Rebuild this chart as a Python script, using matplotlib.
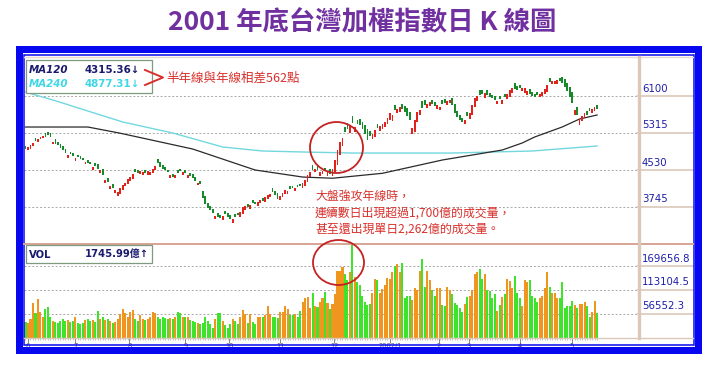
import numpy as np
import matplotlib
matplotlib.use('Agg')
import matplotlib.pyplot as plt
from matplotlib.patches import Rectangle, Ellipse
import matplotlib.transforms as mtransforms

# ---------------- data ----------------
closes = [4980, 5020, 5060, 5110, 5150, 5190, 5230, 5250, 5240, 5275,
          5230, 5125, 5080, 5050, 5000, 4960, 4900, 4850, 4870, 4820,
          4780, 4800, 4760, 4740, 4700, 4680, 4650, 4600, 4620, 4560,
          4530, 4420, 4320, 4280, 4200, 4150, 4100, 4065, 4150, 4215,
          4260, 4330, 4380, 4440, 4490, 4470, 4510, 4480, 4460, 4500,
          4490, 4560, 4620, 4680, 4600, 4560, 4520, 4480, 4420, 4383,
          4420, 4460, 4500, 4490, 4460, 4420, 4400, 4360, 4300, 4255,
          4230, 3935, 3800, 3725, 3680, 3620, 3560, 3530, 3510, 3560,
          3600, 3540, 3500, 3480, 3530, 3575, 3640, 3745, 3770, 3740,
          3780, 3830, 3810, 3860, 3900, 3880, 3960, 3990, 4030, 4065,
          4000, 3915, 3980, 4050, 4107, 4090, 4130, 4150, 4140, 4170,
          4180, 4250, 4320, 4420, 4480, 4530, 4560, 4540, 4490, 4510,
          4500, 4480, 4450, 4560, 4740, 4950, 5125, 5200, 5337, 5400,
          5480, 5527, 5450, 5500, 5485, 5400, 5300, 5170, 5250, 5300,
          5380, 5420, 5470, 5510, 5550, 5640, 5740, 5700, 5800, 5830,
          5867, 5820, 5750, 5680, 5590, 5420, 5600, 5760, 5800, 5850,
          5900, 5940, 5973, 5920, 5880, 5900, 5867, 5930, 5960, 5990,
          6015, 5900, 5740, 5650, 5600, 5550, 5600, 5680, 5740, 5900,
          6058, 6100, 6130, 6150, 6164, 6120, 6080, 6050, 6015, 6000,
          6030, 6015, 6080, 6150, 6220, 6270, 6250, 6230, 6260, 6280,
          6270, 6200, 6150, 6100, 6079, 6120, 6150, 6185, 6250, 6330,
          6397, 6420, 6410, 6430, 6418, 6380, 6290, 6200, 6079, 5950,
          5803, 5700, 5612, 5680, 5740, 5700, 5780, 5820, 5867, 5830]

# signed candle bodies (close - open); positive = up day
bodies = [-50, 70, 75, 70, -60, 75, 50, 45, -70, -60,
          -85, 50, -100, -70, -75, -70, -85, 60, -50, -75,
          50, -45, -60, -50, 50, -60, -50, 70, -50, -95,
          60, -135, 70, -85, 70, -75, 60, 85, 120, 100,
          75, 100, 85, 95, -70, -50, 70, 50, -60, 70,
          60, 100, 95, -85, -100, -70, -75, -60, 50, -70,
          70, -75, -60, 60, -70, 50, -60, -75, -85, 45,
          -75, -155, -170, -100, -85, -75, 70, -85, -70, 85,
          -50, -85, -70, 70, -60, -50, 100, 155, 85, -70,
          85, -60, -50, 85, 75, -60, 100, 85, 75, -75,
          -95, -120, 95, 100, 85, 70, -60, -50, 60, -50,
          -60, 100, 120, 155, 100, -100, 70, -75, 85, 70,
          -75, 70, -100, 155, 255, 305, 270, 155, -100, -135,
          170, -155, 120, -100, -135, -155, -185, -220, -100, 120,
          155, -85, 120, 100, 100, 135, 155, 120, -100, 85,
          100, -120, -135, -155, -170, 135, 255, 205, 100, -135,
          -120, 100, 85, -100, -85, 85, 70, -85, -70, 85,
          70, -155, -185, -135, -100, -85, 100, -70, 120, 205,
          185, 100, -100, -85, 100, -100, -85, -70, -75, 70,
          -70, 85, -70, 120, 135, 100, -120, -85, -70, 70,
          100, 85, -100, -85, -70, -75, 70, 75, 100, 135,
          -85, 70, 50, 70, -70, -120, -170, -185, -220, -240,
          100, -170, 120, 100, 100, -85, -70, 85, 85, -70]

# daily volume (百萬元)
volumes = [38000, 35000, 45000, 82000, 58000, 92000, 60000, 49000, 68000, 73000,
           48000, 40000, 36000, 35000, 40000, 45000, 40000, 42000, 38000, 40000,
           48000, 35000, 33000, 35000, 42000, 45000, 40000, 42000, 38000, 62000,
           45000, 48000, 42000, 45000, 40000, 35000, 38000, 45000, 55000, 67000,
           58000, 49000, 60000, 66000, 45000, 40000, 53000, 45000, 42000, 45000,
           50000, 60000, 58000, 48000, 45000, 48000, 46000, 45000, 47000, 44000,
           48000, 61000, 59000, 50000, 50000, 48000, 42000, 40000, 38000, 35000,
           33000, 35000, 49000, 40000, 31000, 23000, 45000, 58000, 58000, 40000,
           30000, 23000, 33000, 45000, 40000, 31000, 50000, 66000, 55000, 35000,
           56000, 36000, 33000, 50000, 50000, 48000, 53000, 75000, 56000, 48000,
           48000, 46000, 61000, 61000, 75000, 68000, 53000, 53000, 56000, 48000,
           63000, 85000, 94000, 96000, 71000, 106000, 75000, 72000, 85000, 94000,
           108000, 82000, 68000, 79000, 104000, 159000, 159000, 167000, 151000, 136000,
           155000, 222000, 143000, 131000, 124000, 100000, 85000, 78000, 80000, 106000,
           140000, 138000, 106000, 115000, 125000, 141000, 139000, 155000, 170000, 174000,
           155000, 178000, 94000, 100000, 100000, 89000, 118000, 113000, 159000, 188000,
           120000, 159000, 136000, 112000, 100000, 118000, 117000, 78000, 75000, 120000,
           113000, 104000, 82000, 78000, 71000, 61000, 80000, 96000, 100000, 113000,
           151000, 155000, 162000, 140000, 151000, 113000, 110000, 94000, 104000, 63000,
           78000, 96000, 104000, 140000, 134000, 118000, 146000, 106000, 94000, 75000,
           136000, 131000, 136000, 100000, 94000, 85000, 94000, 100000, 118000, 155000,
           120000, 106000, 106000, 94000, 94000, 131000, 71000, 75000, 75000, 87000,
           78000, 71000, 79000, 80000, 85000, 75000, 49000, 61000, 87000, 58000]

ma120_idx = [0, 25, 38, 67, 92, 111, 123, 143, 167, 191, 199, 204, 215, 222, 229]
ma120_val = [5442, 5442, 5310, 4975, 4530, 4381, 4355, 4460, 4742, 4954, 5103, 5230, 5442, 5612, 5697]
ma240_idx = [0, 4, 11, 39, 59, 79, 95, 111, 131, 171, 203, 229]
ma240_val = [6185, 6121, 6015, 5548, 5315, 5018, 4933, 4912, 4890, 4890, 4933, 5039]

price_ticks = [3745, 4530, 5315, 6100]
vol_ticks = [56552.3, 113104.5, 169656.8]
month_pos = [1, 20, 41.6, 64, 81.6, 102, 123.6, 146, 165.6, 177.6, 198, 218.8]
month_lbl = ['6', '7', '8', '9', '10', '11', '12', '2002/1', '2', '3', '4', '5']

title = '2001 年底台灣加權指數日 K 線圖'
ma120_txt = ('MA120', '4315.36↓')
ma240_txt = ('MA240', '4877.31↓')
vol_txt = ('VOL', '1745.99億↑')
note_top = '半年線與年線相差562點'
note_main = ['大盤強攻年線時，', '連續數日出現超過1,700億的成交量，', '甚至還出現單日2,262億的成交量。']

# ---------------- figure ----------------
W, H = 724, 367
fig = plt.figure(figsize=(W / 100, H / 100), dpi=100)
fig.patch.set_facecolor('white')
CJK = ['Noto Sans CJK TC', 'DejaVu Sans']
LAT = ['DejaVu Sans', 'Noto Sans CJK TC']


def rect(x0, y0, x1, y1):
    return [x0 / W, 1 - y1 / H, (x1 - x0) / W, (y1 - y0) / H]


X0, X1 = -0.6, 245.0
ax = fig.add_axes(rect(24, 57, 637, 243))
axv = fig.add_axes(rect(24, 243, 637, 337.5))
for a in (ax, axv):
    a.set_xlim(X0, X1)
    for s in a.spines.values():
        s.set_visible(False)
    a.set_yticks([])
ax.set_xticks([])

px_per_pt = 785 / 37.0
ax.set_ylim(6100 - 147 * px_per_pt, 6100 + 39 * px_per_pt)
axv.set_ylim(0, 225000)

c = np.array(closes, float)
b = np.array(bodies, float)
o = c - b
idx = np.arange(len(c))
lo = np.minimum(o, c)
hgt = np.maximum(np.abs(b), 25)
up = b > 0
ccol = np.where(up, '#e2231c', '#178a2c')
vcol = np.where(up, '#f0951e', '#3fe32b')

grid_kw = dict(color='#a8a8a8', lw=0.7, ls=(0, (2, 2)), zorder=0)
for y in price_ticks:
    ax.axhline(y, **grid_kw)
for y in vol_ticks:
    axv.axhline(y, **grid_kw)

ax.plot(ma240_idx, ma240_val, color='#72d8de', lw=1.0, zorder=2)
ax.plot(ma120_idx, ma120_val, color='#2a2a2a', lw=0.9, zorder=2)
ax.bar(idx, hgt, bottom=lo, width=0.72, color=ccol, linewidth=0, zorder=3)
axv.bar(idx, volumes, width=0.82, color=vcol, linewidth=0, zorder=3)

# x ticks
axv.set_xticks(month_pos)
axv.set_xticklabels(month_lbl, fontsize=4.8, color='#4a4a7a')
axv.set_xticks(idx, minor=True)
axv.tick_params(axis='x', which='major', length=3.5, width=0.6, color='#707070', pad=0.5)
axv.tick_params(axis='x', which='minor', length=1.6, width=0.4, color='#909090')

# right-hand labels and tan tick lines
tan = '#dcc8ba'
lab_col = '#1e1ea8'
for a, ticks, fmt in ((ax, price_ticks, '{:.0f}'), (axv, vol_ticks, '{:.1f}')):
    tr = mtransforms.blended_transform_factory(a.transAxes, a.transData)
    for y in ticks:
        a.plot([1.0, 1.0914], [y, y], transform=tr, clip_on=False, color=tan, lw=1.2)
        a.annotate(fmt.format(y), xy=(1.0, y), xycoords=tr, xytext=(5, 2.5),
                   textcoords='offset pixels', ha='left', va='bottom',
                   fontsize=7.3, color=lab_col, family=LAT, annotation_clip=False)

# ---------------- overlay ----------------
ov = fig.add_axes([0, 0, 1, 1])
ov.set_xlim(0, W)
ov.set_ylim(H, 0)
ov.axis('off')

blue = '#0808f0'
ov.plot([24, 693], [57, 57], color='#ead8cc', lw=1.0)
ov.plot([24, 693], [243.5, 243.5], color='#d6a494', lw=1.4)
ov.plot([24, 693], [338, 338], color=tan, lw=1.0)
ov.plot([638.5, 638.5], [57, 338], color=tan, lw=2.4)

for (x0, y0, x1, y1) in [(16, 46, 702, 53), (16, 347, 702, 354), (16, 46, 23, 354), (695, 46, 702, 354)]:
    ov.add_patch(Rectangle((x0, y0), x1 - x0, y1 - y0, facecolor=blue, edgecolor='none'))
ov.add_patch(Rectangle((24.3, 55), 669.2, 289.5, facecolor='none', edgecolor=blue, lw=1.1))

ov.text(362, 23, title, ha='center', va='center', fontsize=19, fontweight='bold',
        color='#7030a0', family=CJK)

ov.add_patch(Rectangle((26, 60), 126, 33, facecolor='white', edgecolor='#7f9a7f', lw=0.9, zorder=5))
ov.text(29, 70, ma120_txt[0], fontsize=7.4, fontweight='bold', style='italic', color='#1a1a6e',
        va='center', family=LAT, zorder=6)
ov.text(85, 70, ma120_txt[1], fontsize=7.4, fontweight='bold', color='#1a1a6e', va='center',
        family=LAT, zorder=6)
ov.text(29, 84, ma240_txt[0], fontsize=7.4, fontweight='bold', style='italic', color='#3fd6e6',
        va='center', family=LAT, zorder=6)
ov.text(85, 84, ma240_txt[1], fontsize=7.4, fontweight='bold', color='#3fd6e6', va='center',
        family=LAT, zorder=6)

red = '#d8302c'
ov.plot([145, 163, 145], [70, 77.5, 85], color=red, lw=1.4, zorder=6)
ov.text(166, 78, note_top, fontsize=9, color=red, va='center', ha='left', family=CJK, zorder=6)

ov.add_patch(Rectangle((26, 245), 126, 18, facecolor='white', edgecolor='#7f9a7f', lw=0.9, zorder=5))
ov.text(29, 254.5, vol_txt[0], fontsize=7.2, fontweight='bold', color='#1a1a6e', va='center',
        family=LAT, zorder=6)
ov.text(149, 254.5, vol_txt[1], fontsize=7.2, fontweight='bold', color='#1a1a6e', va='center',
        ha='right', family=LAT, zorder=6)

for i, line in enumerate(note_main):
    ov.text(315, 196 + i * 16.8, line, fontsize=8.6, color=red, va='center', ha='left',
            family=CJK, zorder=6)

ov.add_patch(Ellipse((336.5, 147.5), 53, 51, facecolor='none', edgecolor='#c42222', lw=1.3, zorder=6))
ov.add_patch(Ellipse((338.5, 262.5), 51, 45, facecolor='none', edgecolor='#c42222', lw=1.3, zorder=6))

fig.savefig('out.png', dpi=100, facecolor='white')
